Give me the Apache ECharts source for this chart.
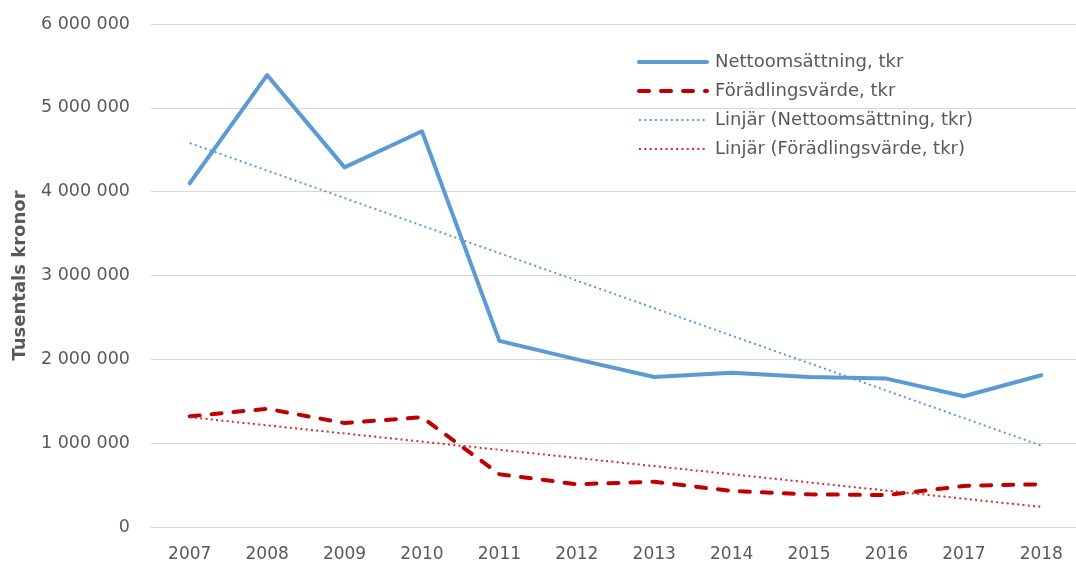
<!DOCTYPE html>
<html>
  <head>
    <meta charset="utf-8" />
    <title>Nettoomsättning och förädlingsvärde</title>
    <script src="https://cdn.jsdelivr.net/npm/echarts@6/dist/echarts.min.js"></script>
    <style>
      html, body { margin: 0; padding: 0; background: #fff; }
      #main { width: 1076px; height: 565px; }
    </style>
  </head>
  <body>
    <div id="main"></div>
    <script type="text/javascript">
// data
let years = ['2007', '2008', '2009', '2010', '2011', '2012', '2013', '2014', '2015', '2016', '2017', '2018'];
let netto = [4100000, 5390000, 4290000, 4720000, 2220000, 2000000, 1790000, 1840000, 1790000, 1770000, 1560000, 1810000];
let foradling = [1320000, 1410000, 1240000, 1310000, 630000, 510000, 540000, 430000, 390000, 380000, 490000, 510000];
// trend lines, start and end points
let nettoTrend = [['2007', 4580000], ['2018', 970000]];
let foradlingTrend = [['2007', 1310000], ['2018', 240000]];

let myChart = echarts.init(document.getElementById('main'));

let font = 'DejaVu Sans, sans-serif';
let gray = '#595959';
let blue = '#5b9bd5';
let red = '#c00000';
let lightRed = '#d42a2a';

let option = {
  animation: false,
  textStyle: { fontFamily: font },
  // width set explicitly: the plot runs a little past the right edge
  grid: { left: 151, width: 929, top: 24, bottom: 38, outerBoundsMode: 'none' },
  legend: {
    orient: 'vertical',
    left: 637,
    top: 53,
    padding: 0,
    itemWidth: 68,
    itemHeight: 14,
    itemGap: 11,
    itemStyle: { opacity: 0 },
    textStyle: { color: gray, fontSize: 18, lineHeight: 18, fontFamily: font, padding: [0, 0, 0, 3] },
    data: [
      { name: 'Nettoomsättning, tkr', lineStyle: { width: 4 } },
      { name: 'Förädlingsvärde, tkr', lineStyle: { width: 4 } },
      { name: 'Linjär (Nettoomsättning, tkr)', lineStyle: { width: 2 } },
      { name: 'Linjär (Förädlingsvärde, tkr)', lineStyle: { width: 2 } }
    ]
  },
  xAxis: {
    type: 'category',
    data: years,
    axisLine: { lineStyle: { color: '#d9d9d9', width: 1 } },
    axisTick: { show: false },
    axisLabel: { color: gray, fontSize: 17, margin: 19 }
  },
  yAxis: {
    type: 'value',
    min: 0,
    max: 6000000,
    interval: 1000000,
    name: 'Tusentals kronor',
    nameLocation: 'middle',
    nameGap: 122,
    nameTextStyle: { color: gray, fontSize: 18, fontWeight: 'bold' },
    splitLine: { lineStyle: { color: '#d9d9d9' } },
    axisLabel: {
      color: gray,
      fontSize: 17.5,
      margin: 21,
      formatter: function (v) {
        return String(v).replace(/\B(?=(\d{3})+(?!\d))/g, ' ');
      }
    }
  },
  series: [
    {
      name: 'Nettoomsättning, tkr',
      type: 'line',
      data: netto,
      showSymbol: false,
      symbol: 'none',
      color: blue,
      lineStyle: { color: blue, width: 4, cap: 'round', join: 'round' }
    },
    {
      name: 'Förädlingsvärde, tkr',
      type: 'line',
      data: foradling,
      showSymbol: false,
      symbol: 'none',
      color: red,
      lineStyle: { color: red, width: 4, type: [10, 12], cap: 'round', join: 'round' }
    },
    {
      name: 'Linjär (Nettoomsättning, tkr)',
      type: 'line',
      data: nettoTrend,
      showSymbol: false,
      symbol: 'none',
      color: blue,
      lineStyle: { color: blue, width: 2, type: [2, 3.3] }
    },
    {
      name: 'Linjär (Förädlingsvärde, tkr)',
      type: 'line',
      data: foradlingTrend,
      showSymbol: false,
      symbol: 'none',
      color: lightRed,
      lineStyle: { color: lightRed, width: 2, type: [2, 3.3] }
    }
  ]
};

myChart.setOption(option);
    </script>
  </body>
</html>
